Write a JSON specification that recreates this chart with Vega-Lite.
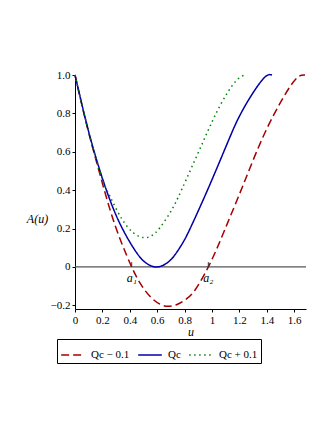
{
  "$schema": "https://vega.github.io/schema/vega-lite/v6.json",
  "width": 231,
  "height": 234,
  "autosize": {"type": "none"},
  "padding": {"left": 75, "top": 75, "right": 26, "bottom": 121},
  "background": "white",
  "config": {
    "view": {"stroke": null},
    "font": "Liberation Serif",
    "axis": {"labelOverlap": false, "grid": false, "labelFlush": false},
    "legend": {
      "orient": "none",
      "legendX": -18,
      "legendY": 264,
      "direction": "horizontal",
      "strokeColor": "black",
      "padding": 3,
      "symbolType": "stroke",
      "symbolStrokeWidth": 1.5,
      "symbolSize": 560,
      "labelFontSize": 11,
      "labelColor": "black",
      "labelFont": "Liberation Serif",
      "labelOffset": 5,
      "columnPadding": 5,
      "cornerRadius": 0
    }
  },
  "datasets": {
    "curves": [
      {"series": "Qc − 0.1", "u": 0, "A": 1.0},
      {"series": "Qc − 0.1", "u": 0.08, "A": 0.755},
      {"series": "Qc − 0.1", "u": 0.158, "A": 0.545},
      {"series": "Qc − 0.1", "u": 0.255, "A": 0.3},
      {"series": "Qc − 0.1", "u": 0.34, "A": 0.125},
      {"series": "Qc − 0.1", "u": 0.414, "A": 0.0},
      {"series": "Qc − 0.1", "u": 0.474, "A": -0.083},
      {"series": "Qc − 0.1", "u": 0.547, "A": -0.153},
      {"series": "Qc − 0.1", "u": 0.62, "A": -0.194},
      {"series": "Qc − 0.1", "u": 0.68, "A": -0.205},
      {"series": "Qc − 0.1", "u": 0.74, "A": -0.197},
      {"series": "Qc − 0.1", "u": 0.8, "A": -0.173},
      {"series": "Qc − 0.1", "u": 0.876, "A": -0.12},
      {"series": "Qc − 0.1", "u": 0.973, "A": 0.0},
      {"series": "Qc − 0.1", "u": 1.046, "A": 0.113},
      {"series": "Qc − 0.1", "u": 1.117, "A": 0.235},
      {"series": "Qc − 0.1", "u": 1.229, "A": 0.43},
      {"series": "Qc − 0.1", "u": 1.372, "A": 0.677},
      {"series": "Qc − 0.1", "u": 1.518, "A": 0.88},
      {"series": "Qc − 0.1", "u": 1.62, "A": 0.985},
      {"series": "Qc − 0.1", "u": 1.679, "A": 1.0},
      {"series": "Qc", "u": 0, "A": 1.0},
      {"series": "Qc", "u": 0.08, "A": 0.76},
      {"series": "Qc", "u": 0.158, "A": 0.557},
      {"series": "Qc", "u": 0.255, "A": 0.349},
      {"series": "Qc", "u": 0.353, "A": 0.19},
      {"series": "Qc", "u": 0.45, "A": 0.074},
      {"series": "Qc", "u": 0.52, "A": 0.02},
      {"series": "Qc", "u": 0.595, "A": 0.0},
      {"series": "Qc", "u": 0.67, "A": 0.02},
      {"series": "Qc", "u": 0.73, "A": 0.064},
      {"series": "Qc", "u": 0.79, "A": 0.13},
      {"series": "Qc", "u": 0.85, "A": 0.215},
      {"series": "Qc", "u": 0.985, "A": 0.43},
      {"series": "Qc", "u": 1.131, "A": 0.677},
      {"series": "Qc", "u": 1.2, "A": 0.785},
      {"series": "Qc", "u": 1.277, "A": 0.882},
      {"series": "Qc", "u": 1.38, "A": 0.985},
      {"series": "Qc", "u": 1.438, "A": 1.0},
      {"series": "Qc + 0.1", "u": 0, "A": 1.0},
      {"series": "Qc + 0.1", "u": 0.08, "A": 0.76},
      {"series": "Qc + 0.1", "u": 0.182, "A": 0.495},
      {"series": "Qc + 0.1", "u": 0.255, "A": 0.368},
      {"series": "Qc + 0.1", "u": 0.34, "A": 0.252},
      {"series": "Qc + 0.1", "u": 0.426, "A": 0.178},
      {"series": "Qc + 0.1", "u": 0.5, "A": 0.153},
      {"series": "Qc + 0.1", "u": 0.56, "A": 0.163},
      {"series": "Qc + 0.1", "u": 0.62, "A": 0.205},
      {"series": "Qc + 0.1", "u": 0.7, "A": 0.29},
      {"series": "Qc + 0.1", "u": 0.78, "A": 0.405},
      {"series": "Qc + 0.1", "u": 0.934, "A": 0.651},
      {"series": "Qc + 0.1", "u": 1.058, "A": 0.84},
      {"series": "Qc + 0.1", "u": 1.17, "A": 0.965},
      {"series": "Qc + 0.1", "u": 1.241, "A": 1.0}
    ],
    "rootTicks": [
      {"u": 0.414, "A": 0.025, "A2": 0.0},
      {"u": 0.973, "A": 0.025, "A2": 0.0}
    ],
    "rootLabels": [
      {"u": 0.414, "A": -0.055, "label": "a₁"},
      {"u": 0.973, "A": -0.055, "label": "a₂"}
    ],
    "zeroLine": [
      {"u": 0, "u2": 1.686, "A": 0}
    ]
  },
  "encoding": {
    "x": {
      "field": "u", "type": "quantitative",
      "scale": {"domain": [0, 1.686], "nice": false, "zero": false},
      "axis": {
        "values": [0, 0.2, 0.4, 0.6, 0.8, 1, 1.2, 1.4, 1.6],
        "format": "~g",
        "labelOverlap": false,
        "tickSize": 3,
        "tickColor": "black",
        "domainColor": "black",
        "labelColor": "black",
        "labelFontSize": 11,
        "labelPadding": 2,
        "title": "u",
        "titleFontStyle": "italic",
        "titleFontWeight": "normal",
        "titleFontSize": 12,
        "titleColor": "black",
        "titlePadding": 1
      }
    },
    "y": {
      "field": "A", "type": "quantitative",
      "scale": {"domain": [-0.219, 1.0], "nice": false, "zero": false},
      "axis": {
        "values": [-0.2, 0, 0.2, 0.4, 0.6, 0.8, 1.0],
        "labelExpr": "datum.value == 0 ? '0' : format(datum.value, '.1f')",
        "labelOverlap": false,
        "tickSize": 3,
        "tickColor": "black",
        "domainColor": "black",
        "labelColor": "black",
        "labelFontSize": 11,
        "labelPadding": 2,
        "title": "A(u)",
        "titleAngle": 0,
        "titleX": -38,
        "titleY": 143,
        "titleAlign": "center",
        "titleBaseline": "middle",
        "titleFontStyle": "italic",
        "titleFontWeight": "normal",
        "titleFontSize": 12,
        "titleColor": "black"
      }
    }
  },
  "layer": [
    {
      "data": {"name": "zeroLine"},
      "mark": {"type": "rule", "color": "#555555", "strokeWidth": 1.3},
      "encoding": {"x2": {"field": "u2"}}
    },
    {
      "data": {"name": "curves"},
      "mark": {"type": "line", "strokeWidth": 1.5, "interpolate": "natural"},
      "encoding": {
        "color": {
          "field": "series", "type": "nominal",
          "scale": {"domain": ["Qc − 0.1", "Qc", "Qc + 0.1"], "range": ["#a50000", "#0000a8", "#008000"]},
          "legend": {"title": null}
        },
        "strokeDash": {
          "field": "series", "type": "nominal",
          "scale": {"domain": ["Qc − 0.1", "Qc", "Qc + 0.1"], "range": [[8, 4], [1, 0], [1.5, 3.5]]},
          "legend": {"title": null}
        }
      }
    },
    {
      "data": {"name": "rootTicks"},
      "mark": {"type": "rule", "color": "#333333", "strokeWidth": 1},
      "encoding": {"y2": {"field": "A2"}}
    },
    {
      "data": {"name": "rootLabels"},
      "mark": {"type": "text", "fontStyle": "italic", "fontSize": 12, "color": "black", "baseline": "middle", "align": "center"},
      "encoding": {"text": {"field": "label"}}
    }
  ]
}
